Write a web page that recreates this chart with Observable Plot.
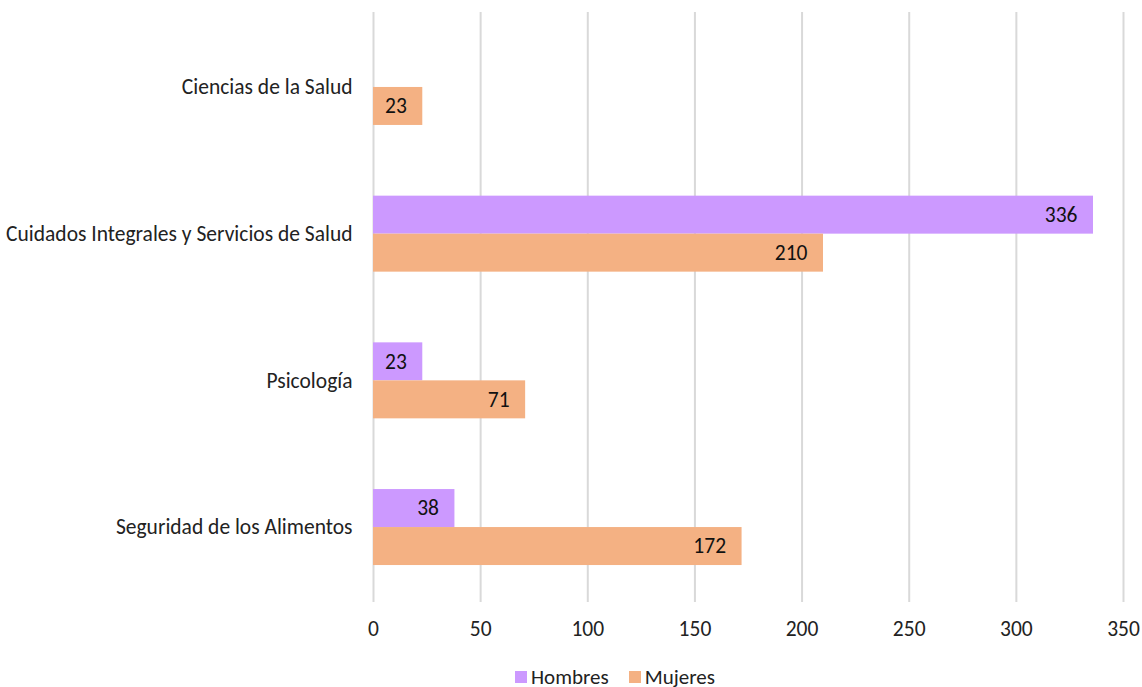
<!DOCTYPE html>
<html><head><meta charset="utf-8">
<script src="https://cdn.jsdelivr.net/npm/d3@7"></script>
<script src="https://cdn.jsdelivr.net/npm/@observablehq/plot@0.6"></script>
<style>
body{margin:0;background:#fff;font-family:Carlito,Calibri,Lato,sans-serif;}
#legend{display:flex;gap:20px;margin-left:515px;padding-top:13px;font-size:21px;line-height:24px;color:#222;}
#legend span.sw{display:inline-block;width:12px;height:12px;margin-right:4px;vertical-align:1px;}
</style></head>
<body><div id="chart"></div><div id="legend"></div>
<script>
const categories = ["Ciencias de la Salud","Cuidados Integrales y Servicios de Salud","Psicología","Seguridad de los Alimentos"];
const series = ["Hombres","Mujeres"];
const colors = ["#CC99FF","#F4B183"];
const hombres = [null,336,23,38];
const mujeres = [23,210,71,172];
const xTicks = [0,50,100,150,200,250,300,350];

const hData = categories.map((c,i)=>({cat:c,v:hombres[i]})).filter(d=>d.v!=null);
const mData = categories.map((c,i)=>({cat:c,v:mujeres[i]}));

const font = "Carlito,Calibri,Lato,sans-serif";
const fs = 21.5;
const plot = Plot.plot({
  width:1142, height:652,
  marginLeft:373, marginRight:19, marginTop:12, marginBottom:50,
  style:{fontFamily:font,fontSize:fs+"px",color:"#222",background:"#fff"},
  x:{domain:[0,350],ticks:xTicks,tickSize:0,tickPadding:18,label:null,grid:false},
  y:{domain:categories,paddingInner:0.482,paddingOuter:0.252,round:false,tickSize:0,tickPadding:21,label:null},
  marks:[
    Plot.ruleX(xTicks,{stroke:"#D9D9D9",strokeWidth:2}),
    Plot.barX(hData,{x:"v",y:"cat",fill:colors[0],insetBottom:38}),
    Plot.barX(mData,{x:"v",y:"cat",fill:colors[1],insetTop:38}),
    Plot.text(hData,{x:"v",y:"cat",text:d=>String(d.v),dy:-19,dx:-16,textAnchor:"end",fill:"#111",fontSize:fs}),
    Plot.text(mData,{x:"v",y:"cat",text:d=>String(d.v),dy:19,dx:-16,textAnchor:"end",fill:"#111",fontSize:fs})
  ]
});
document.getElementById("chart").appendChild(plot);
const lg = document.getElementById("legend");
series.forEach((s,i)=>{
  const el=document.createElement("div");
  el.innerHTML=`<span class="sw" style="background:${colors[i]}"></span>${s}`;
  lg.appendChild(el);
});
</script></body></html>
